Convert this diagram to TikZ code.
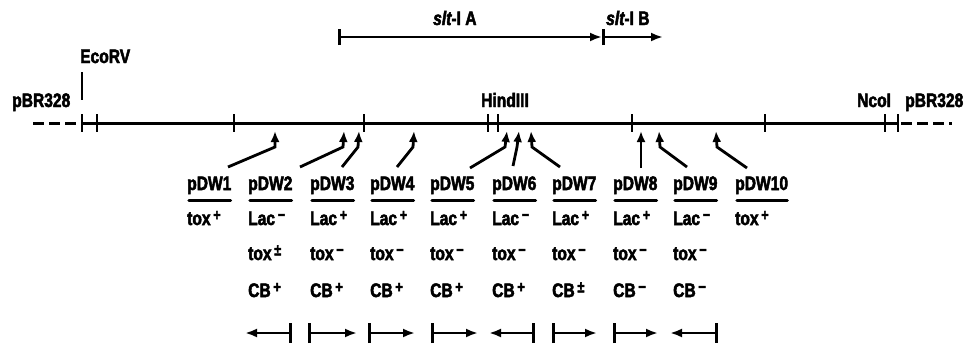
\documentclass[tikz,border=0pt]{standalone}
\usepackage{fontspec}
\newfontfamily\heavy{Liberation Sans Bold}[FakeStretch=0.8, FakeBold=2.5, ItalicFont={Liberation Sans Bold Italic}, ItalicFeatures={FakeBold=2.5,FakeStretch=0.8}]
\usetikzlibrary{arrows.meta}
\newcommand\mysup[1]{\raisebox{0.45ex}{\fontsize{16}{16}\selectfont\,#1}}
\begin{document}
\begin{tikzpicture}[x=1pt,y=-1pt,
  lbl/.style={font=\heavy\fontsize{19.5}{19.5}\selectfont, inner sep=0pt, anchor=base west},
  mainln/.style={line width=3pt},
  site/.style={line width=2.8pt},
  ptr/.style={line width=2.8pt, -{Latex[length=11pt,width=9pt]}},
  uline/.style={line width=3.2pt, line cap=round},
  orient/.style={line width=2.8pt},
  dashln/.style={line width=3pt, dash pattern=on 11pt off 5pt}]
\useasboundingbox (0,0) rectangle (968,346);

% top transcripts
\coordinate (A0) at (338,37);
\coordinate (A1) at (602,37);
\coordinate (B1) at (663,37);
\draw[orient, {Bar[width=16pt]}-{Latex[length=12pt,width=9pt]}] (A0) -- (A1);
\draw[orient, {Bar[width=16pt]}-{Latex[length=12pt,width=9pt]}] (A1) -- (B1);
\node[lbl] (sltA) at (433,25) {{\itshape slt}-I A};
\node[lbl] (sltB) at (606,25) {{\itshape slt}-I B};

% main map line
\coordinate (L0) at (33,123);
\coordinate (L1) at (82,123);
\coordinate (R1) at (898,123);
\coordinate (R0) at (952,123);
\draw[dashln] (L0) -- (L1);
\draw[mainln] (L1) -- (R1);
\draw[dashln] ([xshift=3pt]R1) -- (R0);
\foreach \x in {82,97,234,364,488,498,632,765,885,898}
  \draw[site] (\x,114) -- (\x,132);
\draw[site] (82,72) -- (82,100);

\node[lbl] (pbrL) at (12,107) {pBR328};
\node[lbl] (ecorv) at (80,63) {EcoRV};
\node[lbl] (hind) at (481,107) {HindIII};
\node[lbl] (nco) at (857,107) {NcoI};
\node[lbl] (pbrR) at (905,107) {pBR328};

% clone labels
\node[lbl] (p1) at (187,190) {pDW1};
\node[lbl] (p2) at (248,190) {pDW2};
\node[lbl] (p3) at (310,190) {pDW3};
\node[lbl] (p4) at (370,190) {pDW4};
\node[lbl] (p5) at (430,190) {pDW5};
\node[lbl] (p6) at (492,190) {pDW6};
\node[lbl] (p7) at (552,190) {pDW7};
\node[lbl] (p8) at (613,190) {pDW8};
\node[lbl] (p9) at (673,190) {pDW9};
\node[lbl] (p10) at (735,190) {pDW10};
\foreach \n in {p1,p2,p3,p4,p5,p6,p7,p8,p9,p10}
  \draw[uline] ([xshift=2pt,yshift=-6pt]\n.south west) -- ([xshift=-1pt,yshift=-6pt]\n.south east);

% phenotypes
\node[lbl] (a1) at (187,225) {tox\mysup{+}};
\node[lbl] (a2) at (248,225) {Lac\mysup{−}};
\node[lbl] (a3) at (310,225) {Lac\mysup{+}};
\node[lbl] (a4) at (370,225) {Lac\mysup{+}};
\node[lbl] (a5) at (430,225) {Lac\mysup{+}};
\node[lbl] (a6) at (492,225) {Lac\mysup{−}};
\node[lbl] (a7) at (552,225) {Lac\mysup{+}};
\node[lbl] (a8) at (613,225) {Lac\mysup{+}};
\node[lbl] (a9) at (673,225) {Lac\mysup{−}};
\node[lbl] (a10) at (735,225) {tox\mysup{+}};

\node[lbl] (b2) at (248,260) {tox\mysup{±}};
\node[lbl] (b3) at (310,260) {tox\mysup{−}};
\node[lbl] (b4) at (370,260) {tox\mysup{−}};
\node[lbl] (b5) at (430,260) {tox\mysup{−}};
\node[lbl] (b6) at (492,260) {tox\mysup{−}};
\node[lbl] (b7) at (552,260) {tox\mysup{−}};
\node[lbl] (b8) at (613,260) {tox\mysup{−}};
\node[lbl] (b9) at (673,260) {tox\mysup{−}};

\node[lbl] (c2) at (248,297) {CB\mysup{+}};
\node[lbl] (c3) at (310,297) {CB\mysup{+}};
\node[lbl] (c4) at (370,297) {CB\mysup{+}};
\node[lbl] (c5) at (430,297) {CB\mysup{+}};
\node[lbl] (c6) at (492,297) {CB\mysup{+}};
\node[lbl] (c7) at (552,297) {CB\mysup{±}};
\node[lbl] (c8) at (613,297) {CB\mysup{−}};
\node[lbl] (c9) at (673,297) {CB\mysup{−}};

% pointers from clones to map
\coordinate (s1) at (228,167); \coordinate (m1) at (275,147); \coordinate (t1) at (275,131);
\coordinate (s2) at (300,167); \coordinate (m2) at (343,147); \coordinate (t2) at (344,131);
\coordinate (s3) at (342,167); \coordinate (m3) at (358,147); \coordinate (t3) at (359,131);
\coordinate (s4) at (397,167); \coordinate (m4) at (413,147); \coordinate (t4) at (414,131);
\coordinate (s5) at (470,168); \coordinate (m5) at (505,147); \coordinate (t5) at (507,131);
\coordinate (s6) at (513,166); \coordinate (m6) at (517,147); \coordinate (t6) at (519,131);
\coordinate (s7) at (560,167); \coordinate (m7) at (532,147); \coordinate (t7) at (531,131);
\coordinate (s8) at (641,168); \coordinate (m8) at (641,147); \coordinate (t8) at (641,131);
\coordinate (s9) at (687,167); \coordinate (m9) at (660,147); \coordinate (t9) at (659,131);
\coordinate (s10) at (747,168); \coordinate (m10) at (717,147); \coordinate (t10) at (716,131);
\foreach \i in {1,...,10}
  \draw[ptr] (s\i) -- (m\i) -- (t\i);

% orientation arrows
\coordinate (o2a) at (292,333); \coordinate (o2b) at (245,333);
\coordinate (o3a) at (308,333); \coordinate (o3b) at (357,333);
\coordinate (o4a) at (368,333); \coordinate (o4b) at (415,333);
\coordinate (o5a) at (431,333); \coordinate (o5b) at (478,333);
\coordinate (o6a) at (535,333); \coordinate (o6b) at (489,333);
\coordinate (o7a) at (552,333); \coordinate (o7b) at (597,333);
\coordinate (o8a) at (613,333); \coordinate (o8b) at (658,333);
\coordinate (o9a) at (718,333); \coordinate (o9b) at (670,333);
\foreach \i in {2,...,9}
  \draw[orient, {Bar[width=20pt]}-{Latex[length=12pt,width=9pt]}] (o\i a) -- (o\i b);
\end{tikzpicture}
\end{document}
